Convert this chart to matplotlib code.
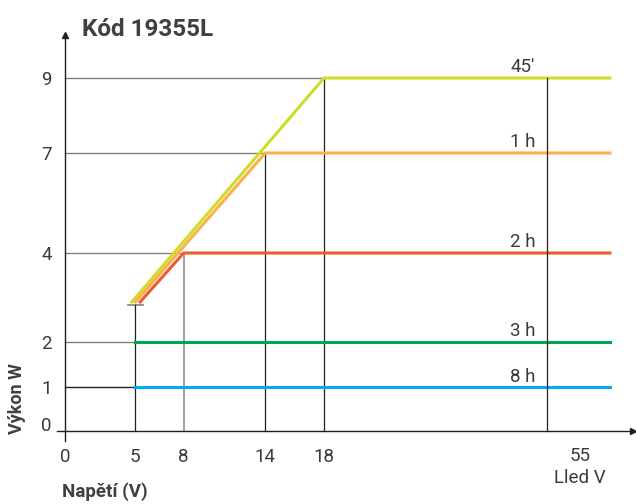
import numpy as np
import matplotlib
matplotlib.use("Agg")
import matplotlib.pyplot as plt

plt.rcParams["font.family"] = ["Roboto", "DejaVu Sans"]

# osy: napětí (V) a výkon (W)
X_TICKS = [0, 5, 8, 14, 18, 55]
Y_TICKS = [0, 1, 2, 4, 7, 9]

# režimy svícení
labels = ["45′", "1 h", "2 h", "3 h", "8 h"]
power = [9, 7, 4, 2, 1]          # výkon na plató
knee_v = [18, 14, 8, 5, 5]       # napětí, od kterého je výkon konstantní
start_v = [4.75, 5.0, 5.3, 5, 5]  # začátek náběhu
start_w = [2.9, 2.9, 2.9, 2, 1]
v_max = 55
v_end = 65.5
cap_w = 2.83
colors = ["#cfdc29", "#fdb04b", "#f15a2b", "#00a651", "#00aeef"]

DARK = "#231f20"
GRAY = "#808080"
TEXT = "#3a3a3a"
FS = 13.5


def piecewise(src, dst):
    # lineární po částech, na koncích prodloužená
    src = np.asarray(src, float)
    dst = np.asarray(dst, float)
    lo = (dst[1] - dst[0]) / (src[1] - src[0])
    hi = (dst[-1] - dst[-2]) / (src[-1] - src[-2])

    def f(v):
        v = np.asarray(v, float)
        out = np.interp(v, src, dst)
        out = np.where(v < src[0], dst[0] + (v - src[0]) * lo, out)
        out = np.where(v > src[-1], dst[-1] + (v - src[-1]) * hi, out)
        return out
    return f


# nerovnoměrné měřítko os
x_pos = [65.5, 135.3, 183.7, 265.3, 324.0, 546.7]
y_pos = [80, 116.7, 162, 251, 351, 426]
fx, ix = piecewise(X_TICKS, x_pos), piecewise(x_pos, X_TICKS)
fy, iy = piecewise(Y_TICKS, y_pos), piecewise(y_pos, Y_TICKS)

fig = plt.figure(figsize=(6.36, 5.04), dpi=100)
ax = fig.add_axes([0, 0, 1, 1])
ax.set_xscale("function", functions=(fx, ix))
ax.set_yscale("function", functions=(fy, iy))
ax.set_xlim(float(ix(0)), float(ix(636)))
ax.set_ylim(float(iy(0)), float(iy(504)))

# osy se šipkami
axis_y = -0.2
for side in ["top", "right"]:
    ax.spines[side].set_visible(False)
ax.spines["left"].set_position(("data", 0))
ax.spines["bottom"].set_position(("data", axis_y))
ax.spines["left"].set_bounds(-0.45, 10.15)
ax.spines["bottom"].set_bounds(-0.6, 69.3)
for side in ["left", "bottom"]:
    ax.spines[side].set_color(DARK)
    ax.spines[side].set_linewidth(1.0)
ax.plot(0, 10.15, "^", color=DARK, ms=5, clip_on=False)
ax.plot(69.3, axis_y, ">", color=DARK, ms=5, clip_on=False)

ax.set_xticks(X_TICKS[:-1])
ax.set_yticks(Y_TICKS)
ax.tick_params(axis="x", length=0, pad=12, labelsize=FS, labelcolor=TEXT)
ax.tick_params(axis="y", length=0, pad=10, labelsize=FS, labelcolor=TEXT)
ax.text(60.5, -0.88, "55", ha="center", va="center", fontsize=FS, color=TEXT)
ax.text(60.5, -1.48, "Lled V", ha="center", va="center", fontsize=FS, color=TEXT)

# pomocné čáry
for w, v in zip(power, knee_v):
    ax.plot([0, v], [w, w], color=DARK if w == 1 else GRAY, lw=1.0, zorder=1)
ax.plot([4.45, 5.5], [cap_w, cap_w], color=GRAY, lw=1.2, zorder=1)
ax.plot([5, 5], [axis_y, cap_w], color=DARK, lw=0.9, zorder=1)
ax.plot([8, 8], [axis_y, 4], color="#9a9a9a", lw=1.3, zorder=1)
ax.plot([14, 14], [axis_y, 7], color=DARK, lw=0.9, zorder=1)
ax.plot([18, 18], [axis_y, 9], color=DARK, lw=0.9, zorder=1)
ax.plot([v_max, v_max], [axis_y, 9], color=DARK, lw=0.9, zorder=3)

# průběhy výkonu
for lab, w, kv, sv, sw, c in zip(labels, power, knee_v, start_v, start_w, colors):
    ax.plot([sv, kv, v_end], [sw, w, w], color=c, lw=2.2, zorder=2,
            solid_joinstyle="miter")
    ax.annotate(lab, xy=(53.1, w), xytext=(0, 4), textcoords="offset points",
                ha="right", va="baseline", fontsize=FS, color=TEXT)

fig.text(82 / 636, 1 - 36 / 504, "Kód 19355L", fontsize=17.5, fontweight="bold",
         color="#404040", va="baseline")
fig.text(17 / 636, 1 - 399 / 504, "Výkon W", fontsize=13, fontweight="bold",
         color="#404040", rotation=90, ha="center", va="center")
fig.text(62 / 636, 1 - 492 / 504, "Napětí (V)", fontsize=13.5, fontweight="bold",
         color="#404040", va="center")

fig.savefig("out.png", dpi=100)
